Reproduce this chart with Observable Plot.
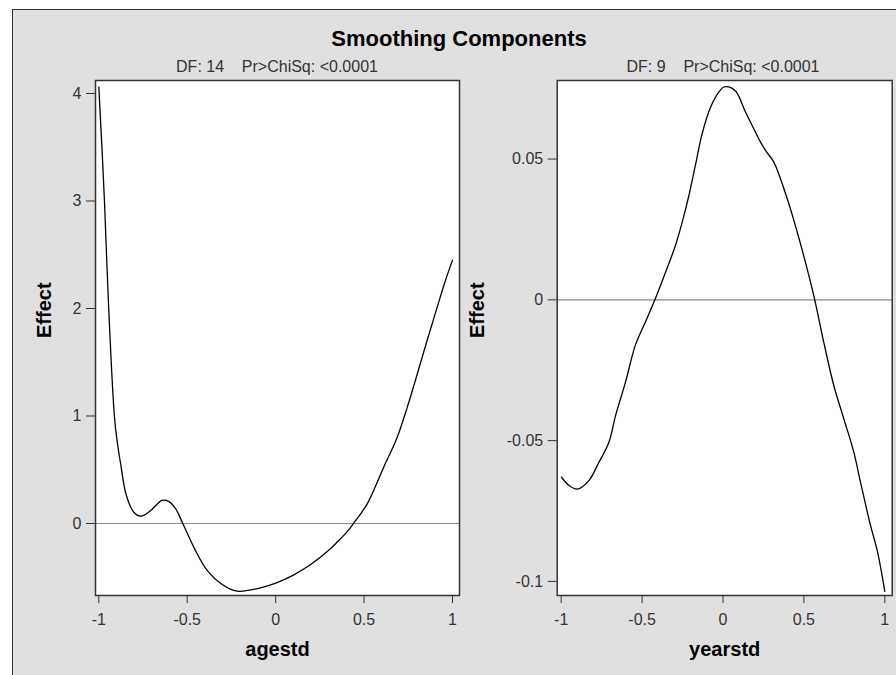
<!DOCTYPE html>
<html>
<head>
<meta charset="utf-8">
<script src="https://cdn.jsdelivr.net/npm/d3@7"></script>
<script src="https://cdn.jsdelivr.net/npm/@observablehq/plot@0.6"></script>
<style>
  html, body { margin: 0; padding: 0; background: white; }
  #page { position: relative; width: 896px; height: 675px; overflow: hidden; background: white;
          font-family: "Liberation Sans", Arial, sans-serif; }
  #bg { position: absolute; left: 12px; top: 9px; width: 960px; height: 760px; background: #e0e0e0;
        border: 1.5px solid #333; }
  .abs { position: absolute; }
  .title { font-size: 22px; font-weight: bold; color: #000; white-space: pre; line-height: normal; }
  .sub { font-size: 16px; color: #333; white-space: pre; line-height: normal; }
</style>
</head>
<body>
<div id="page">
  <div id="bg"></div>
  <div id="title" class="abs title">Smoothing Components</div>
  <div id="sub1" class="abs sub"></div>
  <div id="sub2" class="abs sub"></div>
  <div id="left" class="abs" style="left:0px;top:0px;"></div>
  <div id="right" class="abs" style="left:456px;top:0px;"></div>
</div>
<script>
// ---- data ----
const titleText = "Smoothing Components";
const subtitles = ["DF: 14    Pr>ChiSq: <0.0001", "DF: 9    Pr>ChiSq: <0.0001"];
const xLabels = ["agestd", "yearstd"];
const yLabel = "Effect";
const xTicks = [-1, -0.5, 0, 0.5, 1];
const ageTicksY = [0, 1, 2, 3, 4];
const yearTicksY = [-0.1, -0.05, 0, 0.05];

const ageX = [-1.0, -0.984, -0.968, -0.944, -0.912, -0.896, -0.878, -0.844, -0.802, -0.76, -0.707, -0.642, -0.605, -0.567,
  -0.525, -0.463, -0.387, -0.30, -0.218, -0.14, -0.086, 0.0, 0.10, 0.20, 0.30, 0.35, 0.40, 0.44, 0.518, 0.611, 0.687,
  0.744, 0.79, 0.856, 0.913, 0.96, 1.0];
const ageEffect = [4.06, 3.55, 3.00, 2.00, 1.00, 0.76, 0.57, 0.26, 0.105, 0.068, 0.12, 0.214, 0.205, 0.14,
  0.0, -0.22, -0.437, -0.57, -0.63, -0.617, -0.60, -0.555, -0.48, -0.38, -0.25, -0.17, -0.085, 0.0, 0.183, 0.524, 0.80,
  1.08, 1.33, 1.70, 2.01, 2.26, 2.45];

const yearX = [-0.998, -0.95, -0.90, -0.829, -0.767, -0.705, -0.664, -0.603, -0.541, -0.479, -0.421, -0.355, -0.294,
  -0.252, -0.211, -0.170, -0.129, -0.077, -0.026, 0.005, 0.036, 0.08, 0.139, 0.17, 0.20, 0.232, 0.27, 0.314, 0.397,
  0.459, 0.52, 0.567, 0.623, 0.685, 0.747, 0.808, 0.85, 0.912, 0.953, 1.0];
const yearEffect = [-0.0630, -0.0660, -0.0672, -0.0642, -0.0577, -0.0506, -0.0411, -0.0293, -0.0160, -0.0078, 0.0, 0.0098,
  0.0193, 0.0276, 0.0370, 0.0480, 0.0590, 0.0684, 0.0738, 0.0756, 0.0756, 0.0740, 0.0667, 0.0631, 0.0596, 0.0560, 0.0525,
  0.0489, 0.0359, 0.0240, 0.0110, 0.0, -0.0151, -0.0305, -0.0423, -0.0540, -0.0648, -0.0802, -0.0890, -0.1035];

// ---- helpers ----
const fmt = d => String(d);
const font = '"Liberation Sans", Arial, sans-serif';

function panel({xs, ys, yTicks, xDomain, yDomain, width, ml, mr, xLabel, yLabelDx}) {
  const data = xs.map((x, i) => ({x, y: ys[i]}));
  return Plot.plot({
    width, height: 675,
    marginLeft: ml, marginRight: mr, marginTop: 80, marginBottom: 80,
    style: {background: "transparent", fontSize: "16px", fontFamily: font, color: "#333"},
    x: {domain: xDomain},
    y: {domain: yDomain},
    marks: [
      Plot.frame({fill: "white", stroke: "none"}),
      Plot.ruleY([0], {stroke: "#8a8a8a", strokeWidth: 1.2}),
      Plot.line(data, {x: "x", y: "y", stroke: "#000", strokeWidth: 1.3, curve: "catmull-rom"}),
      Plot.frame({stroke: "#333", strokeWidth: 1.5}),
      Plot.axisX({ticks: xTicks, tickFormat: fmt, tickSize: 8, tickPadding: 10, label: null, fontSize: 16}),
      Plot.axisY({ticks: yTicks, tickFormat: fmt, tickSize: 9, tickPadding: 5, label: null, fontSize: 16}),
      Plot.text([xLabel], {frameAnchor: "bottom", lineAnchor: "bottom", dy: 60, fontSize: 20, fontWeight: "bold", fill: "#000"}),
      Plot.text([yLabel], {frameAnchor: "left", rotate: -90, lineAnchor: "middle", dx: yLabelDx, fontSize: 20, fontWeight: "bold", fill: "#000"})
    ]
  });
}

document.getElementById("left").appendChild(panel({
  xs: ageX, ys: ageEffect, yTicks: ageTicksY,
  xDomain: [-1.0187, 1.0396], yDomain: [-0.670, 4.121],
  width: 500, ml: 95, mr: 41, xLabel: xLabels[0], yLabelDx: -51
}));
document.getElementById("right").appendChild(panel({
  xs: yearX, ys: yearEffect, yTicks: yearTicksY,
  xDomain: [-1.0247, 1.0457], yDomain: [-0.1050, 0.0779],
  width: 440, ml: 100.7, mr: 4.3, xLabel: xLabels[1], yLabelDx: -80
}));

// ---- title and subtitles placement ----
function place(id, text, centerX, baseline, fs) {
  const el = document.getElementById(id);
  el.textContent = text;
  const w = el.getBoundingClientRect().width;
  el.style.left = (centerX - w / 2) + "px";
  el.style.top = (baseline - 0.905 * fs) + "px";
}
place("title", titleText, 459, 46, 22);
place("sub1", subtitles[0], 277, 72, 16);
place("sub2", subtitles[1], 723, 72, 16);
</script>
</body>
</html>
